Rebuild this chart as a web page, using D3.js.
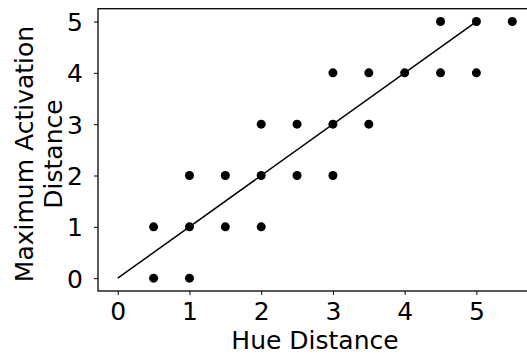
<!DOCTYPE html>
<html>
<head>
<meta charset="utf-8">
<script src="https://cdn.jsdelivr.net/npm/d3@7"></script>
<style>
  body { margin: 0; background: #fff; }
  svg { display: block; font-family: "DejaVu Sans", sans-serif; }
</style>
</head>
<body>
<div id="chart"></div>
<script>
// hue distance / max activation distance pairs
const hueDist = [0.5, 1, 0.5, 1, 1.5, 2, 1, 1.5, 2, 2.5, 3, 2, 2.5, 3, 3.5, 3, 3.5, 4, 4.5, 5, 4.5, 5, 5.5];
const actDist = [0, 0, 1, 1, 1, 1, 2, 2, 2, 2, 2, 3, 3, 3, 3, 4, 4, 4, 4, 4, 5, 5, 5];
const lineX = [0, 5];
const lineY = [0, 5];
const xTicks = [0, 1, 2, 3, 4, 5];
const yTicks = [0, 1, 2, 3, 4, 5];

const fullWidth = 527, fullHeight = 356;
const margin = {top: 8.7, left: 98, bottom: 65};
// right spine sits just past the window edge
const width = 532 - margin.left;
const height = fullHeight - margin.top - margin.bottom;
const fontSize = '25px';

const svg = d3.select('#chart').append('svg')
    .attr('width', fullWidth)
    .attr('height', fullHeight);

const g = svg.append('g')
    .attr('transform', 'translate(' + margin.left + ',' + margin.top + ')');

const x = d3.scaleLinear().domain([-0.275, 5.775]).range([0, width]);
const y = d3.scaleLinear().domain([-0.25, 5.25]).range([height, 0]);

const xAxis = g.append('g')
    .attr('transform', 'translate(0,' + height + ')')
    .call(d3.axisBottom(x).tickValues(xTicks).tickSize(4).tickFormat(d3.format('d')));
const yAxis = g.append('g')
    .call(d3.axisLeft(y).tickValues(yTicks).tickSize(4).tickFormat(d3.format('d')));

[xAxis, yAxis].forEach(a => {
    a.select('.domain').remove();
    a.selectAll('.tick line').attr('stroke', '#000').attr('stroke-width', 1);
    a.selectAll('.tick text')
        .attr('fill', '#000')
        .style('font-size', fontSize)
        .style('font-family', '"DejaVu Sans", sans-serif');
});
xAxis.selectAll('.tick text').attr('y', 28.5).attr('dy', 0);
yAxis.selectAll('.tick text').attr('x', -15).attr('dy', '0.36em');

// frame
g.append('rect')
    .attr('width', width)
    .attr('height', height)
    .attr('fill', 'none')
    .attr('stroke', '#000')
    .attr('stroke-width', 1.3);

// identity line
const pts = lineX.map((v, i) => [v, lineY[i]]);
g.append('path')
    .datum(pts)
    .attr('d', d3.line().x(d => x(d[0])).y(d => y(d[1])))
    .attr('fill', 'none')
    .attr('stroke', '#000')
    .attr('stroke-width', 1.5);

// dots
g.selectAll('circle.dot')
    .data(hueDist.map((v, i) => [v, actDist[i]]))
  .enter().append('circle')
    .classed('dot', true)
    .attr('cx', d => x(d[0]))
    .attr('cy', d => y(d[1]))
    .attr('r', 4.5)
    .attr('fill', '#000');

// axis titles
svg.append('text')
    .attr('x', margin.left + width / 2)
    .attr('y', 349.3)
    .attr('text-anchor', 'middle')
    .style('font-size', fontSize)
    .text('Hue Distance');

const yLab = svg.append('text')
    .attr('transform', 'translate(32.5,154)rotate(-90)')
    .attr('text-anchor', 'middle')
    .style('font-size', fontSize);
yLab.append('tspan').attr('x', 0).attr('y', 0).text('Maximum Activation');
yLab.append('tspan').attr('x', 0).attr('y', 29.5).text('Distance');
</script>
</body>
</html>
